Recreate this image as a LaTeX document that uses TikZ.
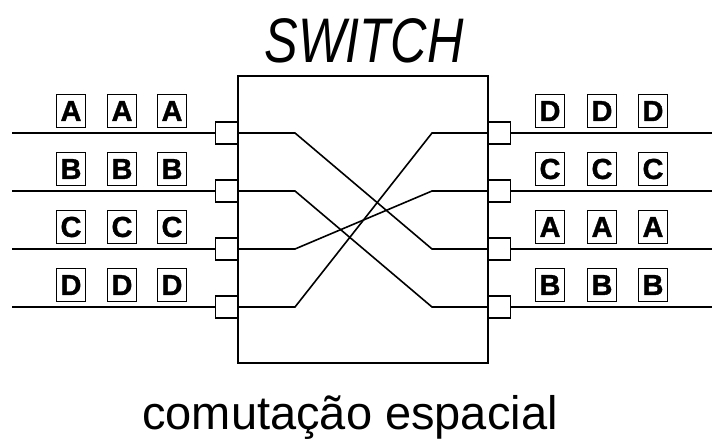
\documentclass[tikz,border=0pt]{standalone}
\usepackage{fontspec}
\setmainfont{Liberation Sans}
\newfontfamily\cellsans[FakeBold=1.2]{Liberation Sans}
\usepackage{tikz}
\usetikzlibrary{positioning}

\begin{document}
\begin{tikzpicture}[x=1pt, y=-1pt,
  switchbox/.style={rectangle,draw,line width=1.5pt,minimum width=250pt,minimum height=287pt,inner sep=0pt},
  port/.style={rectangle,draw,fill=white,line width=1.3pt,minimum width=22pt,minimum height=22pt,inner sep=0pt},
  cell/.style={rectangle,draw,line width=1.3pt,minimum width=29pt,minimum height=33pt,inner sep=0pt,font=\cellsans\bfseries\fontsize{29}{29}\selectfont},
  wire/.style={draw,line width=1.6pt},
  heading/.style={font=\itshape\fontsize{63}{63}\selectfont,inner sep=0pt,xscale=0.8},
  caption/.style={font=\fontsize{47}{47}\selectfont,inner sep=0pt}]
  \useasboundingbox (0,0) rectangle (712,439);

  \node[switchbox] (sw) at (363,219.5) {};
  \node[heading,anchor=base] (title) at (364,62) {SWITCH};
  \node[caption,anchor=base] (label) at (350,429) {comutação espacial};

  % portas de entrada e de saida
  \foreach \i/\y/\l/\r in {1/133/A/D, 2/191/B/C, 3/249/C/A, 4/307/D/B} {
    \node[port,anchor=east] (in\i) at (238,\y) {};
    \node[port,anchor=west] (out\i) at (488,\y) {};
    \coordinate (src\i) at (12,\y);
    \coordinate (dst\i) at (712,\y);
    \draw[wire] (src\i) -- (in\i.west);
    \draw[wire] (out\i.east) -- (dst\i);
    \foreach \c/\xl/\xr in {1/71/550, 2/122/602, 3/172/653} {
      \node[cell] (a\i\c) at (\xl,\y-22) {\l};
      \node[cell] (b\i\c) at (\xr,\y-22) {\r};
    }
  }

  % ligacoes internas
  \foreach \i/\t in {1/3, 2/4, 3/2, 4/1}
    \draw[wire] (in\i.east) -- ++(57,0) -- ([xshift=-56pt]out\t.west) -- (out\t.west);
\end{tikzpicture}
\end{document}
